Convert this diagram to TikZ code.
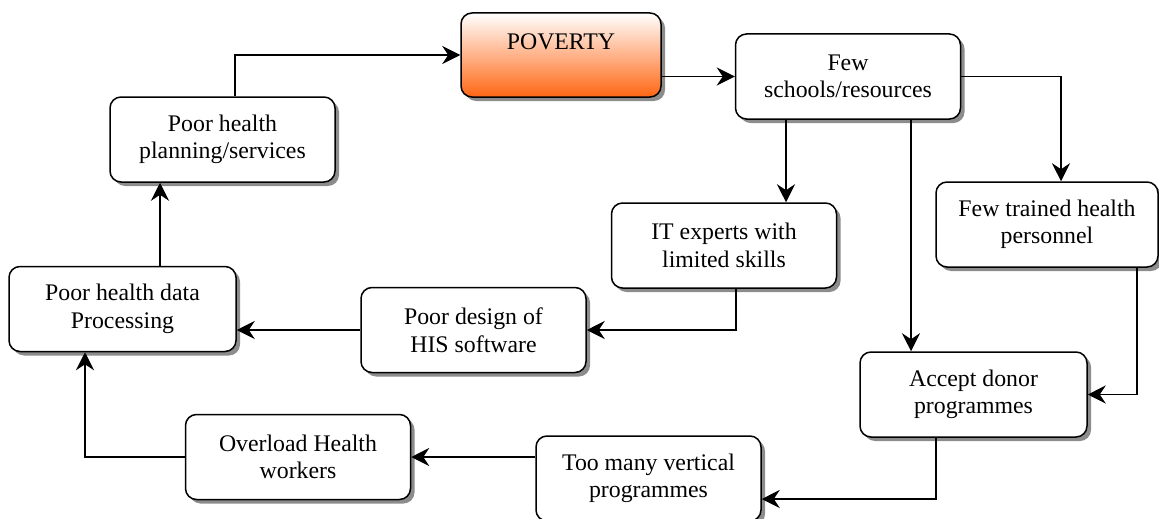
\documentclass[tikz,border=0pt]{standalone}
\usepackage{fontspec}
\setmainfont{Liberation Serif}
\newfontfamily\boxfont{Liberation Serif}
\usepackage{tikz}
\usetikzlibrary{arrows.meta,positioning,calc,shadows}
\usepackage{xcolor}
\definecolor{ink}{RGB}{0,0,0}
\definecolor{hotorange}{RGB}{255,102,20}
\tikzset{
  box/.style={draw=ink,line width=1.5pt,rounded corners=11pt,fill=white,
    minimum width=225pt,minimum height=85pt,align=center,inner sep=2pt,
    font=\boxfont\fontsize{23.8pt}{27.5pt}\selectfont,
    drop shadow={shadow xshift=4pt,shadow yshift=-4pt,fill=black,opacity=.45}},
  hot/.style={box,minimum width=200pt,minimum height=84pt,top color=white,bottom color=hotorange},
  arr/.style={-{Stealth[length=18pt,width=18pt,inset=6pt]},line width=1.4pt},
}
\begin{document}
\begin{tikzpicture}[x=1pt,y=-1pt]
  \useasboundingbox (0,0) rectangle (1159,519);
  % top row
  \node[hot] (poverty) at (561,55) {POVERTY\\\mbox{}};
  \node[box] (few) at (848,76.5) {Few\\schools/resources};
  \node[box] (planning) at (222.5,139.5) {Poor health\\planning/services};

  % middle
  \node[box] (it) at (724,245.5) {IT experts with\\limited skills};
  \node[box,minimum width=222pt] (trained) at (1047,224.5) {Few trained health\\personnel};
  \node[box] (design) at (473.5,330) {Poor design of\\HIS software};
  \node[box,minimum width=227pt] (data) at (122.5,309) {Poor health data\\Processing};

  % bottom row
  \node[box,minimum width=227pt] (accept) at (973.5,394.5) {Accept donor\\programmes};
  \node[box] (toomany) at (648.5,478.5) {Too many vertical\\programmes};
  \node[box] (overload) at (298,457) {Overload Health\\workers};

  % the cycle
  \draw[arr] (poverty.east |- few.west) -- (few.west);
  \draw[arr] (few.east) -| ([xshift=14pt]trained.north);
  \draw[arr] ([xshift=62pt]it.north |- few.south) -- ([xshift=62pt]it.north);
  \draw[arr] ([xshift=-62.5pt]accept.north |- few.south) -- ([xshift=-62.5pt]accept.north);
  \draw[arr] ([xshift=90pt]trained.south) |- (accept.east);
  \draw[arr] ([xshift=12pt]it.south) |- (design.east);
  \draw[arr] (design.west) -- (design.west -| data.east);
  \draw[arr] ([xshift=-37.5pt]accept.south) |- ([yshift=-20.5pt]toomany.east);
  \draw[arr] (toomany.west |- overload.east) -- (overload.east);
  \draw[arr] (overload.west) -| ([xshift=-37.5pt]data.south);
  \draw[arr] ([xshift=37.5pt]data.north) -- ([xshift=37.5pt]data.north |- planning.south);
  \draw[arr] ([xshift=12.5pt]planning.north) |- (poverty.west);
\end{tikzpicture}
\end{document}
